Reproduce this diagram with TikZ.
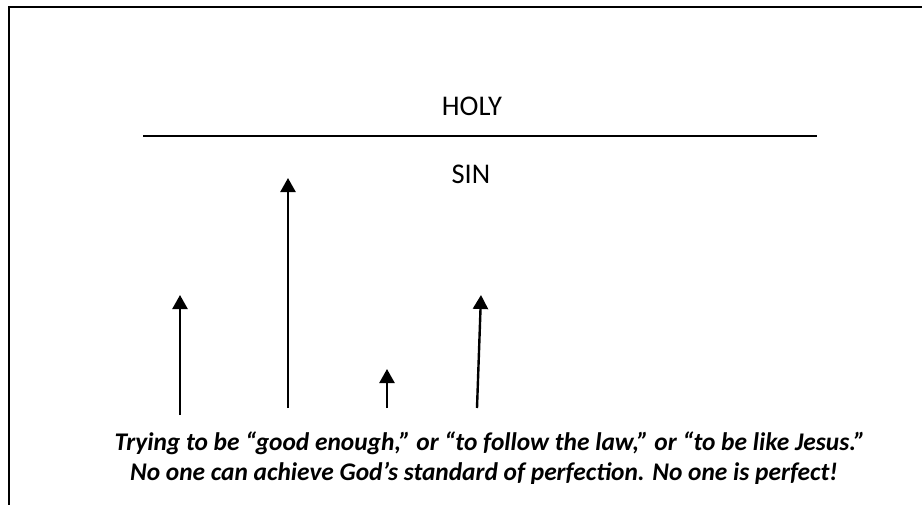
\documentclass[tikz,border=0pt]{standalone}
\usepackage{fontspec}
\setmainfont{Carlito}
\usetikzlibrary{arrows.meta}
\begin{document}
\begin{tikzpicture}[x=1pt,y=-1pt,
  lab/.style={inner sep=0pt,anchor=base,font=\fontsize{28.5}{32}\selectfont},
  note/.style={inner sep=0pt,anchor=base,font=\fontsize{25.4}{29}\selectfont\bfseries\itshape},
  up/.style={line width=2.4pt,-{Triangle[width=15pt,length=14pt]}},
  frame/.style={line width=2.2pt,black}]
\useasboundingbox (0,0) rectangle (922,504);
\fill[white] (0,0) rectangle (922,504);
% frame (only top and left edges fall inside the picture)
\coordinate (fTL) at (9,7);
\coordinate (fTR) at (930,7);
\coordinate (fBL) at (9,510);
\draw[frame] (fTR) -- (fTL) -- (fBL);
% dividing line
\coordinate (lL) at (143,136);
\coordinate (lR) at (817,136);
\draw[line width=1.4pt] (lL) -- (lR);
\node[lab] (holy) at (472,115) {HOLY};
\node[lab] (sin) at (471,183) {SIN};
% arrows
\coordinate (a1s) at (180,415); \coordinate (a1e) at (180,295);
\coordinate (a2s) at (288,408); \coordinate (a2e) at (288,178);
\coordinate (a3s) at (387,408); \coordinate (a3e) at (387,369);
\coordinate (a4s) at (477,408); \coordinate (a4e) at (481,295);
\draw[up] (a1s) -- (a1e);
\draw[up] (a2s) -- (a2e);
\draw[up] (a3s) -- (a3e);
\draw[up] (a4s) -- (a4e);
% caption
\node[note] (t1) at (490,450) {Trying to be “good enough,” or “to follow the law,” or “to be like Jesus.”};
\node[note] (t2) at (484,480) {No one can achieve God’s standard of perfection. No one is perfect!};
\end{tikzpicture}
\end{document}
